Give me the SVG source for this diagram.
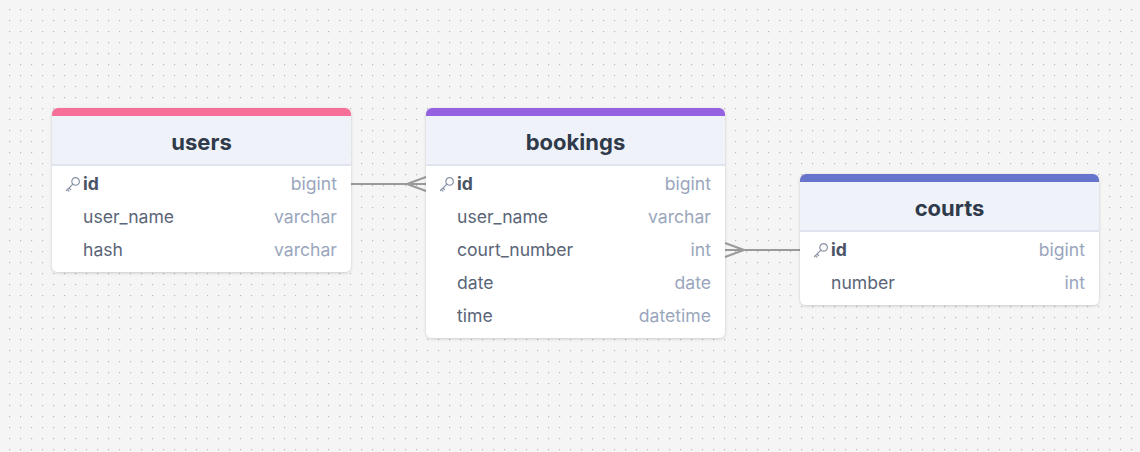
<svg xmlns="http://www.w3.org/2000/svg" width="1140" height="452" viewBox="0 0 1140 452">
<defs>
<pattern id="dots" x="0" y="0" width="11" height="11" patternUnits="userSpaceOnUse">
<rect x="9" y="9" width="1.2" height="1.2" fill="#b8b8b8"/>
</pattern>
<filter id="sh" x="-10%" y="-10%" width="120%" height="130%">
<feDropShadow dx="0" dy="1" stdDeviation="1.5" flood-color="#000" flood-opacity="0.18"/>
</filter>
<g id="key">
<circle cx="4.6" cy="-3.6" r="3.8" fill="none" stroke="#8a94a6" stroke-width="1.2"/>
<path d="M1.9 -0.9 L-4.5 5.5 M-2 3 L-0.3 4.7 M-3.6 4.6 L-2 6.2" fill="none" stroke="#8a94a6" stroke-width="1.2" stroke-linecap="round"/>
</g>
<clipPath id="c1"><rect x="52" y="108" width="299" height="164" rx="6"/></clipPath>
<clipPath id="c2"><rect x="426" y="108" width="299" height="230" rx="6"/></clipPath>
<clipPath id="c3"><rect x="800" y="174" width="299" height="131" rx="6"/></clipPath>
</defs>
<style>
.title{font-family:Inter,"Noto Sans",sans-serif;font-size:22px;font-weight:700;fill:#2f3a4b;text-anchor:middle}
.f{font-family:Inter,"Noto Sans",sans-serif;font-size:17.6px;fill:#5a6577}
.pk{font-weight:700;fill:#4a5464}
.t{font-family:Inter,"Noto Sans",sans-serif;font-size:17.6px;fill:#9aa6bd;text-anchor:end}
.card{fill:#fff}
.head{fill:#eff2f8}
.sep{stroke:#dfe4ee;stroke-width:2}
.conn{stroke:#9a9a9a;stroke-width:2;fill:none}
</style>
<rect width="1140" height="452" fill="#f5f5f5"/>
<rect width="1140" height="452" fill="url(#dots)"/>

<g id="connectors">
<path class="conn" d="M351 184 H426 M407 184 L426 177 M407 184 L426 191"/>
<path class="conn" d="M725 250 H800 M744 250 L725 243 M744 250 L725 257"/>
</g>

<g id="users">
<rect class="card" x="52" y="108" width="299" height="164" rx="6" filter="url(#sh)"/>
<g clip-path="url(#c1)">
<rect x="52" y="108" width="299" height="8" fill="#f56f98"/>
<rect class="head" x="52" y="116" width="299" height="48"/>
<line class="sep" x1="52" y1="165" x2="351" y2="165"/>
</g>
<text class="title" x="201.5" y="150">users</text>
<use href="#key" x="71" y="185"/>
<text class="f pk" x="83" y="190">id</text><text class="t" x="337" y="190">bigint</text>
<text class="f" x="83" y="223">user_name</text><text class="t" x="337" y="223">varchar</text>
<text class="f" x="83" y="256">hash</text><text class="t" x="337" y="256">varchar</text>
</g>

<g id="bookings">
<rect class="card" x="426" y="108" width="299" height="230" rx="6" filter="url(#sh)"/>
<g clip-path="url(#c2)">
<rect x="426" y="108" width="299" height="8" fill="#9461e0"/>
<rect class="head" x="426" y="116" width="299" height="48"/>
<line class="sep" x1="426" y1="165" x2="725" y2="165"/>
</g>
<text class="title" x="575.5" y="150">bookings</text>
<use href="#key" x="445" y="185"/>
<text class="f pk" x="457" y="190">id</text><text class="t" x="711" y="190">bigint</text>
<text class="f" x="457" y="223">user_name</text><text class="t" x="711" y="223">varchar</text>
<text class="f" x="457" y="256">court_number</text><text class="t" x="711" y="256">int</text>
<text class="f" x="457" y="289">date</text><text class="t" x="711" y="289">date</text>
<text class="f" x="457" y="322">time</text><text class="t" x="711" y="322">datetime</text>
</g>

<g id="courts">
<rect class="card" x="800" y="174" width="299" height="131" rx="6" filter="url(#sh)"/>
<g clip-path="url(#c3)">
<rect x="800" y="174" width="299" height="8" fill="#6674cc"/>
<rect class="head" x="800" y="182" width="299" height="48"/>
<line class="sep" x1="800" y1="231" x2="1099" y2="231"/>
</g>
<text class="title" x="949.5" y="216">courts</text>
<use href="#key" x="819" y="251"/>
<text class="f pk" x="831" y="256">id</text><text class="t" x="1085" y="256">bigint</text>
<text class="f" x="831" y="289">number</text><text class="t" x="1085" y="289">int</text>
</g>
</svg>
